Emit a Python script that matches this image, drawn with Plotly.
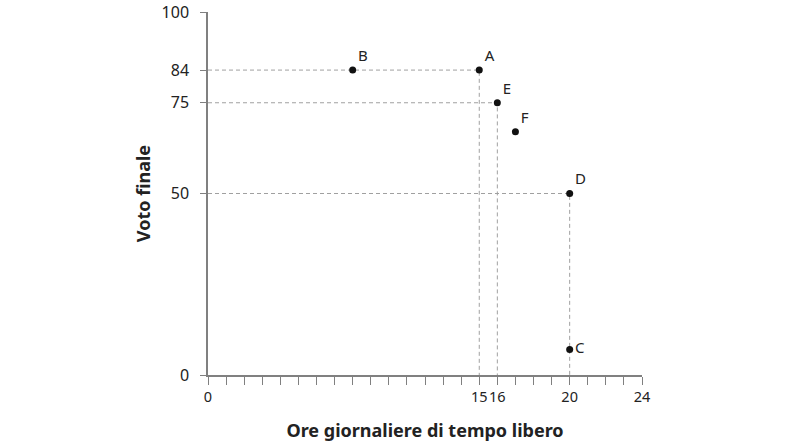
import plotly.graph_objects as go

labels = ["A", "B", "C", "D", "E", "F"]
hours = [15, 8, 20, 20, 16, 17]
grades = [84, 84, 7, 50, 75, 67]
label_pos = ["top right", "top right", "middle right", "top right", "top right", "top right"]
guided = ["A", "E", "D"]

x_ticks = list(range(0, 25))
x_labeled = [0, 15, 16, 20, 24]
y_ticks = [0, 50, 75, 84, 100]

FONT = "Noto Sans"
AXIS_COLOR = "#808080"
GUIDE_COLOR = "#a0a0a0"

fig = go.Figure()

for name in guided:
    i = labels.index(name)
    xv, yv = hours[i], grades[i]
    fig.add_trace(go.Scatter(
        x=[0, xv, xv], y=[yv, yv, 0], mode="lines",
        line=dict(color=GUIDE_COLOR, width=1, dash="4px,3px"),
        hoverinfo="skip", showlegend=False, cliponaxis=False))

fig.add_trace(go.Scatter(
    x=hours, y=grades, mode="markers+text", text=labels,
    textposition=label_pos,
    textfont=dict(family=FONT, size=15, color="#222222"),
    marker=dict(color="#111111", size=7),
    showlegend=False, cliponaxis=False))

fig.update_layout(
    width=810, height=444,
    margin=dict(l=208, r=168, t=12, b=69),
    paper_bgcolor="white", plot_bgcolor="white",
    font=dict(family=FONT, size=15, color="#222222"),
)
fig.update_xaxes(
    range=[0, 24], tickmode="array", tickvals=x_ticks,
    ticktext=[str(v) if v in x_labeled else "" for v in x_ticks],
    tickangle=0, automargin=False,
    ticks="outside", ticklen=8, tickwidth=1, tickcolor=AXIS_COLOR,
    showline=True, linecolor=AXIS_COLOR, linewidth=1.5,
    showgrid=False, zeroline=False,
    tickfont=dict(family=FONT, size=14.5, color="#222222"),
    title=dict(text="<b>Ore giornaliere di tempo libero</b>", standoff=19,
               font=dict(family=FONT, size=18, color="#222222")),
)
fig.update_yaxes(
    range=[0, 100], tickmode="array", tickvals=y_ticks,
    ticktext=[str(v) for v in y_ticks],
    automargin=False, ticklabelstandoff=8,
    ticks="outside", ticklen=6, tickwidth=1, tickcolor=AXIS_COLOR,
    showline=True, linecolor=AXIS_COLOR, linewidth=1.5,
    showgrid=False, zeroline=False,
    tickfont=dict(family=FONT, size=16, color="#222222"),
    title=dict(text="<b>Voto finale</b>", standoff=6,
               font=dict(family=FONT, size=18, color="#222222")),
)

fig.write_html("out.html", config={"displayModeBar": False},
               post_script="document.body.style.margin='0';document.body.style.overflow='hidden';")
